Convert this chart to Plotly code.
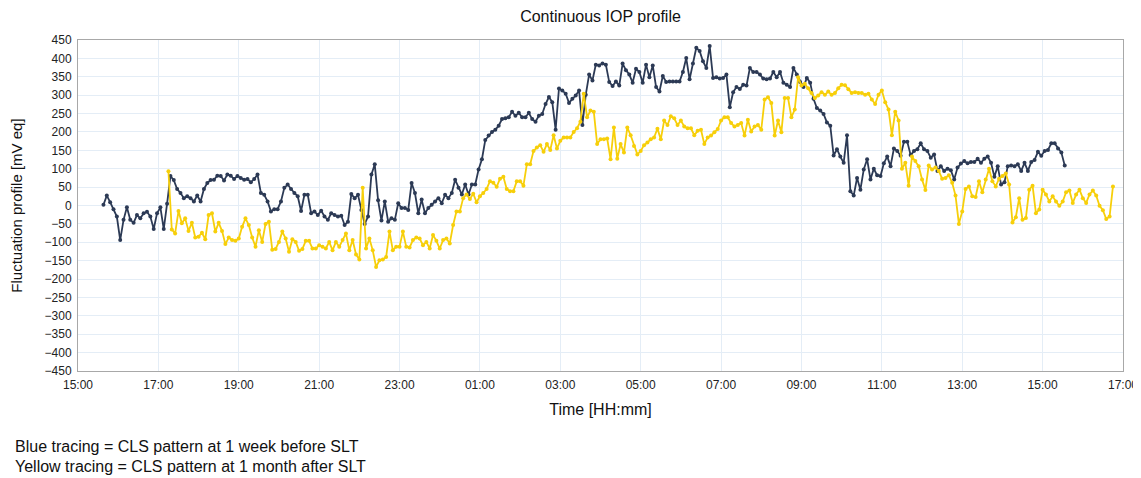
import pandas as pd
import plotly.graph_objects as go

# 5-minute samples, values (mV eq)
blue_start = "2020-01-01 15:38"
yellow_start = "2020-01-01 17:15"
sample_step = "5min"

blue_values = [
    2, 27, 9, -10, -30, -94, -39, -5, -39, -47, -26, -35, -21, -17, -30, -64, -21, -5, -64, 5,
    80, 69, 45, 34, 20, 25, 20, 11, 27, 11, 45, 61, 69, 70, 81, 80, 68, 84, 81, 72,
    80, 75, 70, 72, 63, 72, 84,
    34, 29, 11, -16, -10, -10, 11, 48, 57, 45, 34, 25, -15, 29, 29, -21, -16, -26, -14, -30,
    -39, -21, -26, -30, -28, -53, -44, 31, 20, 29, -12, -50, -30, 84, 112, 14, -41, 11, -44, -35,
    -39, 6, -7, -7, -12, 61, 34, -21, 16, -21, -7, 2, 11, 20, 6, 29, 20, 34, 70, 48,
    30, 57, 30, 57, 57, 98, 126, 178, 190, 200, 206, 217, 235, 237, 240, 255, 244, 252, 240, 240,
    252, 235, 228, 244, 249, 276, 295, 281, 206, 318, 313, 304, 279, 290, 299, 313, 219, 301,
    356, 340, 383, 381, 386, 383, 336, 325, 337, 326, 386, 368, 356, 334, 372, 363, 334,
    383, 349, 381, 322, 310, 352, 336, 337, 337, 337, 337, 363, 401, 343, 386, 429, 420, 392, 374, 434,
    347, 349, 345, 347, 356, 267, 308, 322, 317, 328, 326, 374, 363, 363, 356, 345, 343, 345, 363, 349,
    363, 334, 328, 322, 374, 356, 336, 322, 347, 334, 290, 265, 258, 249, 226, 217,
    136, 153, 133, 116, 191, 39, 27, 75, 43, 98, 126, 71, 100, 82, 80, 115, 133, 107, 155,
    148, 135, 173, 173, 137, 148, 153, 169, 153, 148, 130, 139, 94, 107, 94, 100, 96, 71, 103, 114, 121,
    115, 118, 118, 127, 116, 127, 133, 116, 78, 107, 57, 63, 107, 109, 107, 112, 94, 116, 94, 118,
    124, 146, 135, 148, 151, 169, 169, 155, 144, 109,
]

yellow_values = [
    93, -65, -76, -15, -48, -35, -69, -47, -87, -85, -74, -92, -26, -21, -71, -47, -69, -105, -87, -94,
    -96, -90, -58, -35, -53, -87, -112, -67, -99, -50, -44,
    -120, -118, -99, -71, -90, -126, -92, -99, -123, -118, -96, -96, -117, -117, -108, -112, -117, -99, -122, -99,
    -112, -94, -76, -122, -94, -133, -147, 48, -117, -90, -122, -167, -149, -147, -140, -71, -122, -112, -112, -71,
    -112, -114, -94, -87, -90, -108, -99, -117, -80, -96, -117, -94, -90, -103, -53, -16, -16,
    20, 30, 18, 32, 9, 25, 34, 45, 66, 62, 51, 73, 78, 45, 39, 39, 66, 66, 54, 112,
    112, 148, 158, 164, 146, 167, 151, 191, 155, 176, 185, 185, 185, 200, 210, 228, 304, 240, 258, 255,
    167, 180, 180, 182, 126, 212, 127, 167, 144, 212, 191, 162, 139, 148, 164, 171, 180,
    185, 209, 180,
    231, 219, 243, 237, 219, 231, 215, 210, 210, 191, 203, 206, 167, 185, 190, 199, 208, 231, 240,
    240, 224, 215, 219, 224, 190, 233, 201, 215, 219, 206, 288, 294, 279, 190, 231, 199, 292, 292, 240,
    261, 349, 326, 331, 319, 306, 292, 299, 308, 301, 310, 301, 306, 319,
    328, 327, 316, 306, 308, 306, 306, 301, 304, 288, 276, 301, 313, 281, 261, 191, 255, 231, 100, 116,
    54, 133, 121, 107, 71, 42, 109, 98, 103, 94, 73, 75, 82, 62, 27, -50, -16, 45, 52,
    25, 23, 66, 36, 71, 100, 66, 52, 73, 80, 87, 57, -46, -32, 20, -39, -34, 43, 54, -21,
    -11, 43, 30, 11, 25, 11, -1, 11, 36, 41, 7, 30, 43, 20, 7, 30, 41, 27, -1, -13,
    -37, -30, 52,
]

x_tick_labels = ["15:00", "17:00", "19:00", "21:00", "23:00", "01:00", "03:00",
                 "05:00", "07:00", "09:00", "11:00", "13:00", "15:00", "17:00"]
y_tick_values = list(range(-450, 451, 50))

blue_color = "#2c3a55"
yellow_color = "#f7cf0a"
grid_color = "#e4edf6"
axis_color = "#a8a8a8"
font_family = "Liberation Sans, Arial, sans-serif"

# the page body adds an 8px margin, so the figure is a bit smaller than the window
fig_width = 1133
fig_height = 470

blue_times = pd.date_range(blue_start, periods=len(blue_values), freq=sample_step)
yellow_times = pd.date_range(yellow_start, periods=len(yellow_values), freq=sample_step)
tick_times = pd.date_range("2020-01-01 15:00", periods=len(x_tick_labels), freq="2h")

fig = go.Figure()

fig.add_trace(go.Scatter(x=blue_times, y=blue_values, mode="lines+markers",
                         line=dict(color=blue_color, width=1.8),
                         marker=dict(color=blue_color, size=4),
                         name="Blue tracing"))
fig.add_trace(go.Scatter(x=yellow_times, y=yellow_values, mode="lines+markers",
                         line=dict(color=yellow_color, width=1.8),
                         marker=dict(color=yellow_color, size=4),
                         name="Yellow tracing"))

fig.update_xaxes(
    range=[tick_times[0], tick_times[-1]],
    tickvals=tick_times, ticktext=x_tick_labels,
    showgrid=True, gridcolor=grid_color, gridwidth=1,
    showline=True, linecolor=axis_color, linewidth=1, mirror=True,
    ticks="outside", ticklen=3, tickcolor="rgba(0,0,0,0)",
    tickfont=dict(size=12, color="#222"),
    title=dict(text="Time [HH:mm]", font=dict(size=16, color="#111"), standoff=12),
    zeroline=False, automargin=False,
)
fig.update_yaxes(
    range=[-450, 450],
    tickvals=y_tick_values,
    showgrid=True, gridcolor=grid_color, gridwidth=1,
    showline=True, linecolor=axis_color, linewidth=1, mirror=True,
    ticks="outside", ticklen=3, tickcolor="rgba(0,0,0,0)",
    tickfont=dict(size=12, color="#222"),
    title=dict(text="Fluctuation profile [mV eq]", font=dict(size=15, color="#111"), standoff=19),
    zeroline=False, automargin=False,
)

fig.update_layout(
    width=fig_width, height=fig_height,
    margin=dict(l=70, r=18, t=32, b=107, autoexpand=False),
    paper_bgcolor="white", plot_bgcolor="white",
    font=dict(family=font_family, color="#111"),
    showlegend=False,
    title=dict(text="Continuous IOP profile", x=0.5, xref="paper",
               y=1 - 8 / fig_height, yanchor="middle", font=dict(size=16, color="#111")),
)

# notes under the chart
fig.add_annotation(text="Blue tracing = CLS pattern at 1 week before SLT",
                   xref="paper", yref="paper", x=-0.0622, y=-0.2296,
                   xanchor="left", yanchor="middle", showarrow=False,
                   font=dict(size=16, color="#111"))
fig.add_annotation(text="Yellow tracing = CLS pattern at 1 month after SLT",
                   xref="paper", yref="paper", x=-0.0622, y=-0.29,
                   xanchor="left", yanchor="middle", showarrow=False,
                   font=dict(size=16, color="#111"))

fig.write_html("out.html")
